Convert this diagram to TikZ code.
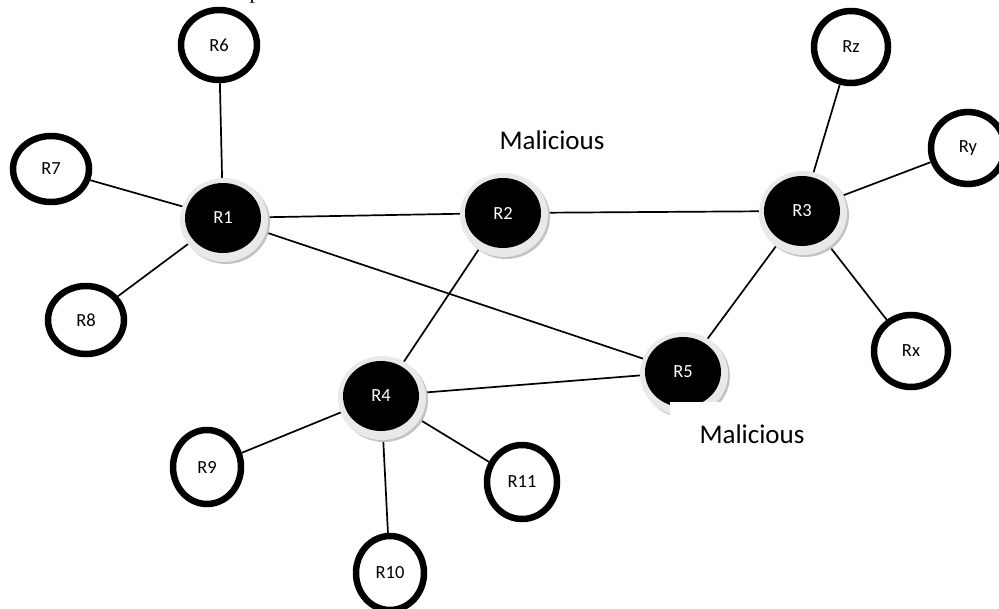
\documentclass[tikz,border=0pt]{standalone}
\usepackage{fontspec}
\setmainfont{Carlito}
\newfontfamily\serifp{Liberation Serif}
\usetikzlibrary{shapes.geometric}
\pgfdeclarelayer{bg}
\pgfsetlayers{bg,main}
\definecolor{haloc}{RGB}{233,233,233}
\definecolor{shadec}{RGB}{195,195,195}
\begin{document}
\begin{tikzpicture}[x=1pt,y=-1pt,
  edge/.style={line width=1.7pt},
  outer/.style={ellipse, draw=black, line width=6.5pt, fill=white, inner sep=0pt,
    minimum width=74pt, minimum height=72pt, font=\fontsize{18.5}{22}\selectfont},
  core/.style={ellipse, fill=black, text=white, inner sep=0pt,
    minimum width=76pt, minimum height=70pt, font=\fontsize{18.5}{22}\selectfont},
  warn/.style={inner sep=0pt, font=\fontsize{27}{32}\selectfont}]
\useasboundingbox (0,0) rectangle (999,608);

% halos of the black routers
\foreach \x/\y in {223/218, 503/213, 802/211, 381/396, 683/372}{
  \fill[shadec] (\x+3,\y+4) ellipse (44pt and 42pt);
  \fill[haloc] (\x+1,\y+2) ellipse (44pt and 42pt);
}

% black routers
\node[core] (R1) at (223,218) {R1};
\node[core] (R2) at (503,213) {R2};
\node[core] (R3) at (802,211) {R3};
\node[core] (R4) at (381,396) {R4};
\node[core] (R5) at (683,372) {R5};

% outline routers
\node[outer, minimum width=76pt, minimum height=70pt] (R6) at (219,45) {R6};
\node[outer, minimum width=76pt, minimum height=66pt] (R7) at (51,169) {R7};
\node[outer, minimum width=76pt, minimum height=68pt] (R8) at (86,320) {R8};
\node[outer] (Rz) at (851,47) {Rz};
\node[outer] (Ry) at (968,148) {Ry};
\node[outer] (Rx) at (911,351) {Rx};
\node[outer, minimum width=68pt, minimum height=74pt] (R9) at (207,467) {R9};
\node[outer, minimum width=68pt, minimum height=74pt] (R10) at (390,573) {R10};
\node[outer, minimum width=70pt, minimum height=74pt] (R11) at (522,482) {R11};

% links
\begin{pgfonlayer}{bg}
\draw[edge] (R6) -- (R1);
\draw[edge] (R7) -- (R1);
\draw[edge] (R8) -- (R1);
\draw[edge] (R1) -- (R2);
\draw[edge] (R1) -- (R5);
\draw[edge] (R2) -- (R3);
\draw[edge] (R2) -- (R4);
\draw[edge] (R3) -- (Rz);
\draw[edge] (R3) -- (Ry);
\draw[edge] (R3) -- (Rx);
\draw[edge] (R3) -- (R5);
\draw[edge] (R4) -- (R5);
\draw[edge] (R4) -- (R9);
\draw[edge] (R4) -- (R10);
\draw[edge] (R4) -- (R11);
\end{pgfonlayer}

% labels
\node[warn] (mal1) at (552,140) {Malicious};
\fill[white] (670,402) rectangle (840,465);
\node[warn] (mal2) at (752,434) {Malicious};

% cut-off caption fragment at the top (only its descender shows)
\node[anchor=base, inner sep=0pt, font=\serifp\fontsize{22}{26}\selectfont] (frag) at (255,-2) {p};
\end{tikzpicture}
\end{document}
